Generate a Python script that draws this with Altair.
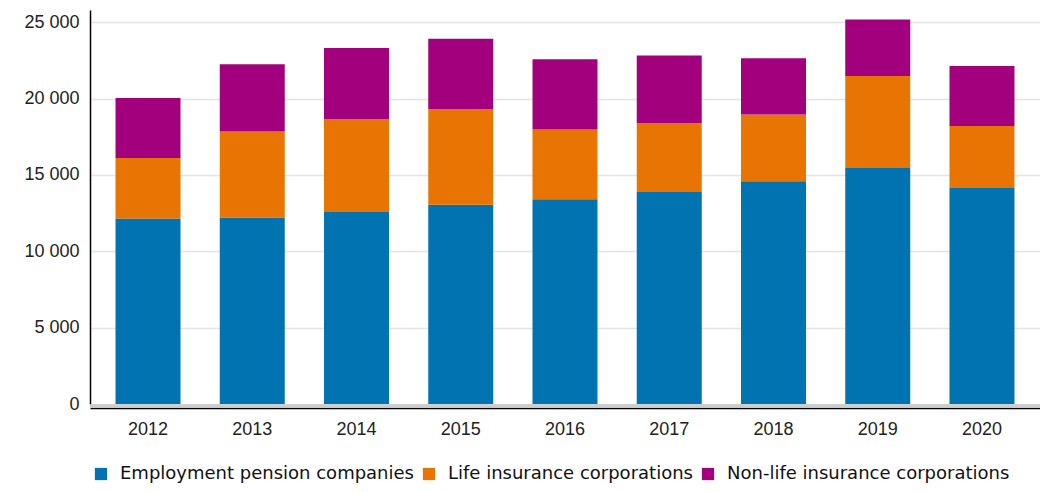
import altair as alt
import pandas as pd

years = ["2012", "2013", "2014", "2015", "2016", "2017", "2018", "2019", "2020"]
series = ["Employment pension companies", "Life insurance corporations", "Non-life insurance corporations"]
employment = [12140, 12220, 12570, 13050, 13400, 13880, 14580, 15450, 14140]
life = [3970, 5620, 6070, 6250, 4570, 4520, 4370, 6030, 4060]
nonlife = [3930, 4410, 4670, 4610, 4610, 4420, 3690, 3700, 3930]
colors = ["#0073B0", "#E87503", "#A3007E"]
y_ticks = [0, 5000, 10000, 15000, 20000, 25000]

rows = []
for i, y in enumerate(years):
    for k, vals in enumerate([employment, life, nonlife]):
        rows.append({"year": y, "series": series[k], "order": k, "value": vals[i]})
df = pd.DataFrame(rows)

base = alt.Chart(df)

bars = base.mark_bar(size=65).encode(
    x=alt.X("year:N", sort=years,
            scale=alt.Scale(paddingInner=0.377, paddingOuter=0.245),
            axis=alt.Axis(title=None, labelAngle=0, ticks=False, domain=True,
                          domainColor="#000000", domainWidth=1.5, offset=4,
                          labelFont="Liberation Sans", labelFontSize=18,
                          labelColor="#222222", labelPadding=12)),
    y=alt.Y("value:Q", stack="zero",
            scale=alt.Scale(domain=[0, 25800], nice=False),
            axis=alt.Axis(title=None, values=y_ticks, ticks=False,
                          domainColor="#000000", domainWidth=1.5,
                          gridColor="#E3E3E3", gridWidth=1.5,
                          labelFont="Liberation Sans", labelFontSize=18,
                          labelColor="#222222", labelPadding=11,
                          labelExpr="replace(format(datum.value, ','), ',', ' ')")),
    color=alt.Color("series:N", sort=series,
                    scale=alt.Scale(domain=series, range=colors),
                    legend=alt.Legend(title=None, orient="none", direction="horizontal",
                                      legendX=2, legendY=455,
                                      symbolType="square", symbolSize=150,
                                      symbolStrokeWidth=0, symbolOpacity=1,
                                      labelFont="DejaVu Sans", labelFontSize=18,
                                      labelColor="#111111", labelOffset=10,
                                      labelLimit=0, columnPadding=6, symbolLimit=0)),
    order=alt.Order("order:Q"),
)

baseline = alt.Chart(pd.DataFrame({"v": [0]})).mark_rule(
    color="#CCCCCC", strokeWidth=3.5, yOffset=2
).encode(y="v:Q")

chart = alt.layer(bars, baseline).properties(
    width=950, height=394,
    autosize=alt.AutoSizeParams(type="none"),
    padding={"left": 82, "top": 2, "right": 0, "bottom": 80},
).configure_view(stroke=None).configure_axis(grid=True).configure_axisX(grid=False)

chart.save("out.html", embed_options={"renderer": "svg", "actions": False})
